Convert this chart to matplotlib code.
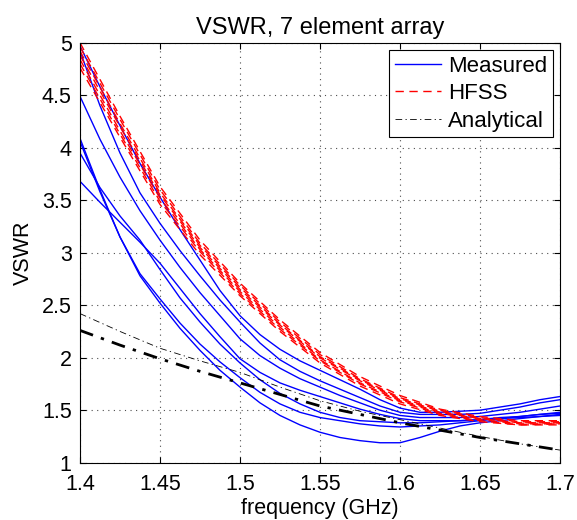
import matplotlib.pyplot as plt
import matplotlib as mpl

mpl.rcParams.update({
    "font.family": ["Liberation Sans", "DejaVu Sans"],
    "font.size": 15.5,
    "xtick.direction": "in", "ytick.direction": "in",
    "xtick.top": True, "ytick.right": True,
})

# measured sweep (finer step), simulation / model sweep (coarser step)
freq_meas = [1.4000, 1.4125, 1.4250, 1.4375, 1.4500, 1.4625, 1.4750, 1.4875, 1.5000,
             1.5125, 1.5250, 1.5375, 1.5500, 1.5625, 1.5750, 1.5875, 1.6000, 1.6125,
             1.6250, 1.6375, 1.6500, 1.6625, 1.6750, 1.6875, 1.7000]
freq = [1.400, 1.425, 1.450, 1.475, 1.500, 1.525, 1.550, 1.575, 1.600, 1.625, 1.650, 1.675, 1.700]

# measured VSWR, one list per element
meas_a = [4.97, 4.58, 4.21, 3.85, 3.53, 3.22, 2.93, 2.64, 2.40, 2.22, 2.08, 1.97, 1.88,
          1.79, 1.70, 1.60, 1.52, 1.48, 1.48, 1.49, 1.50, 1.53, 1.56, 1.60, 1.63]
meas_b = [4.92, 4.40, 3.95, 3.57, 3.28, 3.02, 2.78, 2.55, 2.34, 2.14, 1.98, 1.87, 1.78,
          1.70, 1.62, 1.54, 1.48, 1.46, 1.46, 1.46, 1.47, 1.50, 1.53, 1.57, 1.60]
meas_c = [4.49, 4.08, 3.72, 3.40, 3.12, 2.86, 2.62, 2.40, 2.18, 2.02, 1.90, 1.80, 1.72,
          1.64, 1.57, 1.50, 1.45, 1.43, 1.43, 1.43, 1.44, 1.46, 1.48, 1.51, 1.54]
meas_d = [4.09, 3.60, 3.15, 2.78, 2.52, 2.28, 2.07, 1.88, 1.72, 1.57, 1.45, 1.36, 1.29,
          1.24, 1.21, 1.19, 1.19, 1.24, 1.30, 1.35, 1.38, 1.40, 1.42, 1.44, 1.46]
meas_e = [4.06, 3.58, 3.15, 2.80, 2.56, 2.33, 2.13, 1.96, 1.81, 1.67, 1.56, 1.48, 1.43,
          1.40, 1.37, 1.35, 1.34, 1.35, 1.36, 1.38, 1.40, 1.42, 1.44, 1.46, 1.47]
meas_f = [3.95, 3.62, 3.35, 3.12, 2.84, 2.57, 2.34, 2.13, 1.95, 1.79, 1.66, 1.56, 1.48,
          1.43, 1.40, 1.39, 1.38, 1.38, 1.39, 1.40, 1.41, 1.43, 1.44, 1.46, 1.48]
meas_g = [3.68, 3.48, 3.29, 3.10, 2.90, 2.66, 2.42, 2.20, 1.99, 1.86, 1.76, 1.69, 1.63,
          1.57, 1.51, 1.46, 1.42, 1.40, 1.40, 1.40, 1.41, 1.42, 1.43, 1.44, 1.45]

# HFSS simulation, one list per element
hfss_1 = [5.00, 4.30, 3.63, 3.12, 2.71, 2.36, 2.05, 1.82, 1.64, 1.51, 1.44, 1.40, 1.40]
hfss_2 = [4.96, 4.27, 3.60, 3.09, 2.69, 2.34, 2.03, 1.80, 1.62, 1.50, 1.43, 1.39, 1.39]
hfss_3 = [4.92, 4.23, 3.57, 3.07, 2.67, 2.32, 2.01, 1.79, 1.61, 1.49, 1.42, 1.38, 1.38]
hfss_4 = [4.88, 4.20, 3.55, 3.05, 2.65, 2.31, 2.00, 1.78, 1.60, 1.48, 1.42, 1.38, 1.38]
hfss_5 = [4.84, 4.16, 3.52, 3.03, 2.63, 2.29, 1.98, 1.76, 1.59, 1.47, 1.41, 1.37, 1.37]
hfss_6 = [4.80, 4.13, 3.49, 3.01, 2.61, 2.27, 1.97, 1.75, 1.58, 1.46, 1.40, 1.36, 1.37]
hfss_7 = [4.76, 4.10, 3.46, 2.98, 2.59, 2.25, 1.95, 1.73, 1.56, 1.45, 1.39, 1.36, 1.36]

# analytical model
anal_thin = [2.42, 2.25, 2.09, 1.97, 1.86, 1.72, 1.59, 1.49, 1.41, 1.33, 1.25, 1.18, 1.12]
anal_thick = [2.26, 2.12, 1.99, 1.87, 1.76, 1.65, 1.54, 1.46, 1.38, 1.31, 1.24, 1.18, 1.12]

fig = plt.figure(figsize=(5.77, 5.2), dpi=100)
ax = fig.add_axes([0.1386, 0.1102, 0.8319, 0.8077])

for i, m in enumerate([meas_a, meas_b, meas_c, meas_d, meas_e, meas_f, meas_g]):
    ax.plot(freq_meas, m, color="#0000ff", lw=1.0, label="Measured" if i == 0 else "_nolegend_")
for i, h in enumerate([hfss_1, hfss_2, hfss_3, hfss_4, hfss_5, hfss_6, hfss_7]):
    ax.plot(freq, h, color="#ff0000", lw=1.0, ls=(0, (6, 4)), label="HFSS" if i == 0 else "_nolegend_")
ax.plot(freq, anal_thin, color="k", lw=0.6, ls=(0, (8, 4, 1.5, 4)), label="Analytical")
ax.plot(freq, anal_thick, color="k", lw=2.0, ls=(0, (5, 3, 1.2, 3)), label="_nolegend_")

ax.set_xlim(1.4, 1.7); ax.set_ylim(1, 5)
xt = [1.4, 1.45, 1.5, 1.55, 1.6, 1.65, 1.7]
yt = [1, 1.5, 2, 2.5, 3, 3.5, 4, 4.5, 5]
ax.set_xticks(xt); ax.set_xticklabels([f"{v:g}" for v in xt])
ax.set_yticks(yt); ax.set_yticklabels([f"{v:g}" for v in yt])
ax.grid(True, ls=(0, (1, 4)), color="0.3", lw=0.8)
ax.tick_params(length=4, width=0.8, pad=6)
ax.tick_params(axis="x", pad=8)
for s in ax.spines.values():
    s.set_linewidth(0.8)

ax.set_xlabel("frequency (GHz)", labelpad=2)
ax.set_ylabel("VSWR", labelpad=6)
ax.set_title("VSWR, 7 element array", fontsize=17, pad=6)

leg = ax.legend(loc="upper right", fancybox=False, edgecolor="k", framealpha=1, fontsize=16,
                borderaxespad=0.33, handlelength=2.1, handletextpad=0.3,
                labelspacing=0.3, borderpad=0.25)
leg.get_frame().set_linewidth(0.8)

plt.savefig("out.png", dpi=100)
